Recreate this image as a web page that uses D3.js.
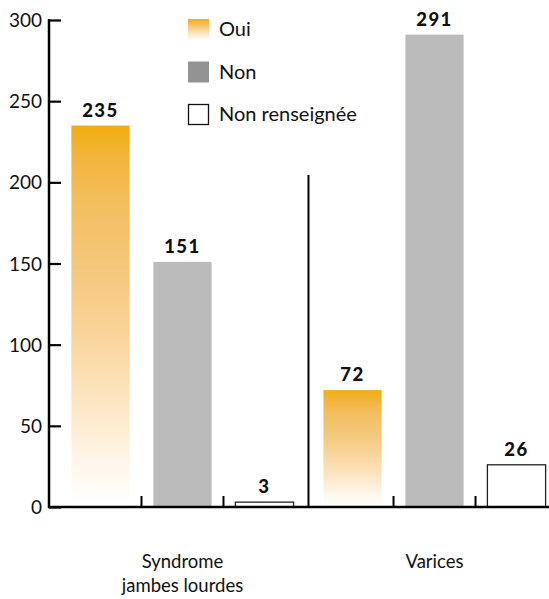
<!DOCTYPE html>
<html><head><meta charset="utf-8">
<script src="https://cdn.jsdelivr.net/npm/d3@7"></script>
<style>
html,body{margin:0;padding:0;background:#fff;}
svg{display:block;font-family:Lato,"Open Sans",sans-serif;}
</style></head>
<body><svg id="c" width="549" height="599"></svg>
<script>
const categories = ["Syndrome\njambes lourdes", "Varices"];
const series = ["Oui", "Non", "Non renseignée"];
const oui = [235, 72];
const non = [151, 291];
const nonRens = [3, 26];
const yTicks = [0, 50, 100, 150, 200, 250, 300];

const svg = d3.select("#c");
const values = [oui, non, nonRens];

const y = d3.scaleLinear().domain([0, 300]).range([507, 20]);
const x0 = d3.scaleBand().domain(categories).range([60, 557]).paddingInner(0.028);
const x1 = d3.scaleBand().domain(series).range([0, x0.bandwidth()]).paddingInner(0.29).paddingOuter(0.139);

const defs = svg.append("defs");
const grad = defs.append("linearGradient").attr("id", "g").attr("x1", 0).attr("y1", 0).attr("x2", 0).attr("y2", 1);
[[0,"#F0AE0F"],[0.08,"#F2B43A"],[0.2,"#F2BE5E"],[0.4,"#F4C980"],[0.55,"#FAD49C"],[0.75,"#FDE8C8"],[0.9,"#FFF8EE"],[1,"#FFFFFF"]]
  .forEach(([o,c]) => grad.append("stop").attr("offset", o).attr("stop-color", c));

const fills = {"Oui": "url(#g)", "Non": "#BBBBBB", "Non renseignée": "#FFFFFF"};

// bars
categories.forEach((cat, ci) => {
  series.forEach((s, si) => {
    const v = values[si][ci];
    const bx = x0(cat) + x1(s);
    svg.append("rect")
      .attr("x", bx).attr("y", y(v))
      .attr("width", x1.bandwidth()).attr("height", y(0) - y(v))
      .attr("fill", fills[s])
      .attr("stroke", s === "Non renseignée" ? "#222" : "none")
      .attr("stroke-width", 1.3);
    svg.append("text")
      .attr("x", bx + x1.bandwidth() / 2).attr("y", y(v) - 9)
      .attr("text-anchor", "middle")
      .attr("font-weight", "900").attr("font-size", 18.5).attr("letter-spacing", 1.5)
      .attr("fill", "#111")
      .text(v);
  });
});

// y axis
const yAxis = d3.axisRight(y).tickValues(yTicks).tickSize(12).tickFormat("");
const ga = svg.append("g").attr("transform", "translate(49,0)").call(yAxis);
ga.select(".domain").remove();
ga.selectAll(".tick line").attr("stroke", "#000").attr("stroke-width", 2.2);
svg.append("line").attr("x1", 49).attr("x2", 49).attr("y1", y(300) - 1).attr("y2", y(0) + 1)
  .attr("stroke", "#000").attr("stroke-width", 2.5);
svg.selectAll(".ylab").data(yTicks).enter().append("text")
  .attr("x", 42).attr("y", d => y(d) + 7)
  .attr("text-anchor", "end").attr("font-size", 19).attr("fill", "#111")
  .text(d => d);

// baseline
svg.append("line").attr("x1", 48).attr("x2", 549).attr("y1", y(0)).attr("y2", y(0))
  .attr("stroke", "#000").attr("stroke-width", 2.5);

// minor ticks at slot boundaries
categories.forEach(cat => {
  [1, 2].forEach(i => {
    const tx = x0(cat) + x1.step() * (x1.paddingOuter() + i) - x1.step() * x1.paddingInner() / 2;
    svg.append("line").attr("x1", tx).attr("x2", tx).attr("y1", y(0)).attr("y2", y(0) - 11)
      .attr("stroke", "#000").attr("stroke-width", 2);
  });
});

// separator between groups
const sepX = (x0(categories[0]) + x0.bandwidth() + x0(categories[1])) / 2;
svg.append("line").attr("x1", sepX).attr("x2", sepX).attr("y1", 175).attr("y2", y(0))
  .attr("stroke", "#000").attr("stroke-width", 2);

// category labels
categories.forEach(cat => {
  const lines = cat.split("\n");
  const t = svg.append("text").attr("text-anchor", "middle").attr("font-size", 18.5).attr("fill", "#111");
  lines.forEach((l, i) => {
    t.append("tspan").attr("x", x0(cat) + x0.bandwidth() / 2).attr("y", 568 + i * 24).text(l);
  });
});

// legend
const legFill = {"Oui": "url(#g2)", "Non": "#939393", "Non renseignée": "#FFFFFF"};
const g2 = defs.append("linearGradient").attr("id", "g2").attr("x1", 0).attr("y1", 0).attr("x2", 0).attr("y2", 1);
[[0,"#F0AE0F"],[0.3,"#F5C266"],[0.6,"#FBDDB0"],[1,"#FFFFFF"]]
  .forEach(([o,c]) => g2.append("stop").attr("offset", o).attr("stop-color", c));
series.forEach((s, i) => {
  const ly = 19 + i * 42.5;
  svg.append("rect").attr("x", s === "Non renseignée" ? 188.5 : 188).attr("y", s === "Non renseignée" ? ly + 0.5 : ly)
    .attr("width", s === "Non renseignée" ? 20 : 21).attr("height", s === "Non renseignée" ? 20 : 21)
    .attr("fill", legFill[s])
    .attr("stroke", s === "Non renseignée" ? "#111" : "none").attr("stroke-width", 1.3);
  svg.append("text").attr("x", 219).attr("y", ly + 17).attr("font-size", 20).attr("fill", "#111").text(s);
});
</script></body></html>
